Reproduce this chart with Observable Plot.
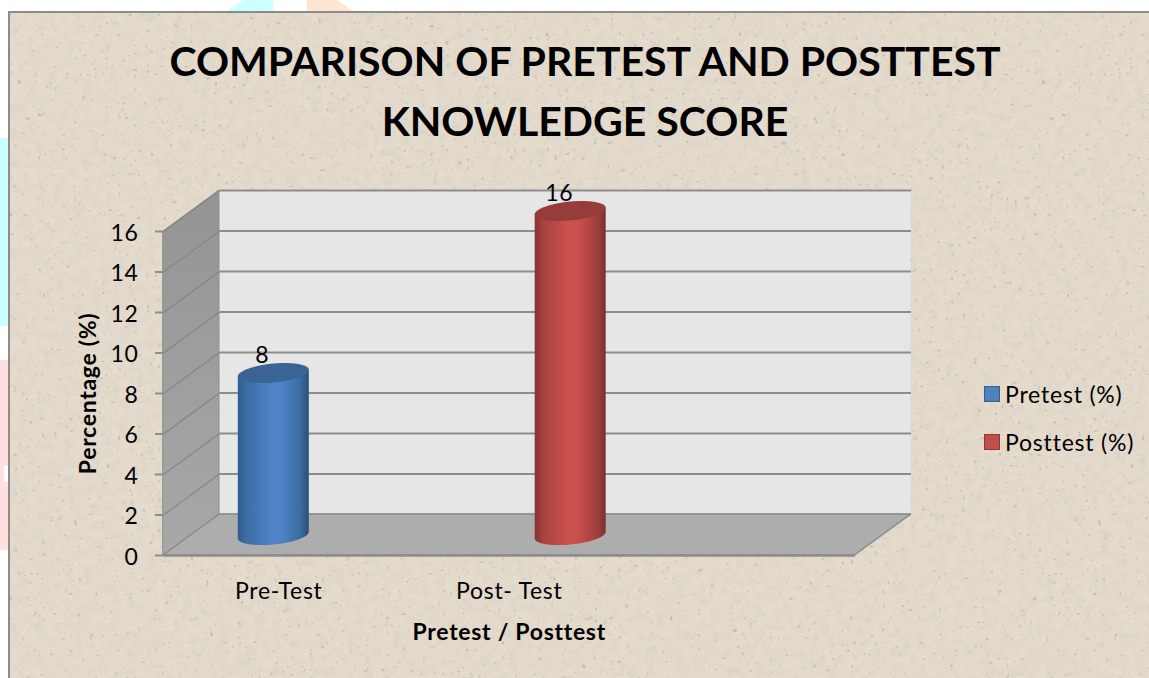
<!DOCTYPE html>
<html>
<head>
<meta charset="utf-8">
<script src="https://cdn.jsdelivr.net/npm/d3@7"></script>
<script src="https://cdn.jsdelivr.net/npm/@observablehq/plot@0.6"></script>
<style>
  html, body { margin: 0; padding: 0; background: #fff; }
  #page { position: relative; width: 1149px; height: 678px; overflow: hidden; font-family: Lato, "Noto Sans", sans-serif; color: #000; }
  .pastel { position: absolute; }
  #panel { position: absolute; left: 8px; top: 11px; right: -4px; bottom: -4px; box-sizing: border-box;
    border: 2px solid #8c8c8c; background-color: #e4dbcd; }
  #panel svg.tex { position: absolute; inset: 0; width: 100%; height: 100%; }
  #title { position: absolute; left: 0; top: 31px; width: 1170px; text-align: center; font-weight: 700; font-size: 41px; line-height: 60px; }
  #chart { position: absolute; left: 0; top: 0; }
  #chart svg { background: transparent; }
  #chart text { letter-spacing: 0.7px; }
  #legend { position: absolute; left: 984px; top: 370px; font-size: 23px; letter-spacing: 0.8px; line-height: 48px; }
  #legend .row { display: flex; align-items: center; height: 48px; }
  #legend i { display: block; width: 14px; height: 14px; margin-right: 5px; border: 1px solid; }
</style>
</head>
<body>
<div id="page">
  <div class="pastel" style="left:0;top:138px;width:8px;height:188px;background:#ccffff"></div>
  <div class="pastel" style="left:0;top:360px;width:8px;height:190px;background:#ffdfdf"></div>
  <div class="pastel" style="left:4px;top:466px;width:4px;height:16px;background:#fff"></div>
  <div class="pastel" style="left:227px;top:0;width:46px;height:11px;background:#ccffff;clip-path:polygon(0 100%,35% 0,100% 0,100% 100%)"></div>
  <div class="pastel" style="left:307px;top:0;width:46px;height:11px;background:#ffe6d2;clip-path:polygon(0 0,65% 0,100% 100%,0 100%)"></div>
  <div id="panel">
    <svg class="tex" xmlns="http://www.w3.org/2000/svg">
      <filter id="mottle" x="0" y="0" width="100%" height="100%">
        <feTurbulence type="fractalNoise" baseFrequency="0.11" numOctaves="3" seed="4"/>
        <feColorMatrix values="0 0 0 0 0.68  0 0 0 0 0.63  0 0 0 0 0.54  1 1 0 0 -0.88"/>
      </filter>
      <filter id="specks" x="0" y="0" width="100%" height="100%">
        <feTurbulence type="fractalNoise" baseFrequency="0.25" numOctaves="2" seed="11"/>
        <feColorMatrix values="0 0 0 0 0.40  0 0 0 0 0.37  0 0 0 0 0.32  4 4 0 0 -5.0"/>
      </filter>
      <rect width="100%" height="100%" filter="url(#mottle)"/>
      <rect width="100%" height="100%" filter="url(#specks)" opacity="0.5"/>
    </svg>
  </div>
  <div id="title">COMPARISON OF PRETEST AND POSTTEST<br>KNOWLEDGE SCORE</div>
  <div id="chart"></div>
  <div id="legend"></div>
</div>
<script>
// ---- chart values ----
const categories = ["Pre-Test", "Post- Test"];
const seriesNames = ["Pretest (%)", "Posttest (%)"];
const seriesValues = [8, 16];
const yTicks = [0, 2, 4, 6, 8, 10, 12, 14, 16];
const seriesFill = ["url(#gradBlue)", "url(#gradRed)"];
const seriesCap = ["#3a6494", "#963c3a"];
const swatchFill = ["#4f81bd", "#c0504d"];
const swatchEdge = ["#2f5f93", "#943634"];

// ---- 3D projection, in scale units ----
const slots = 3;          // category slots along the floor
const depthX = 0.2428;    // back wall offset along x
const depthY = 2.02;      // back wall offset along y
const spread = 1.288;     // distance between cylinders
const radiusX = 0.154, radiusY = 0.47, tiltY = 0.163;

const barX = (i) => 0.355 + i * spread + depthX / 2;
const midY = (v) => v + depthY / 2;
const arcPoint = (cx, cy, t) => ({x: cx + radiusX * Math.cos(t), y: cy + radiusY * Math.sin(t) + tiltY * Math.cos(t)});
const arc = (cx, cy, from, to, n = 48) => d3.range(n + 1).map((k) => arcPoint(cx, cy, from + (to - from) * k / n));

const body = (v, i) => [
  arcPoint(barX(i), midY(v), Math.PI),
  ...arc(barX(i), midY(0), Math.PI, 2 * Math.PI),
  arcPoint(barX(i), midY(v), 2 * Math.PI)
];
const cap = (v, i) => arc(barX(i), midY(v), 0, 2 * Math.PI);

const defs = () => {
  const d = d3.create("svg:defs");
  const grad = (id, stops) => {
    const g = d.append("linearGradient").attr("id", id).attr("x1", 0).attr("x2", 1).attr("y1", 0).attr("y2", 0);
    stops.forEach(([o, c]) => g.append("stop").attr("offset", o).attr("stop-color", c));
  };
  grad("gradBlue", [[0, "#2f5b8d"], [0.12, "#3c6ea4"], [0.5, "#4f85c8"], [0.62, "#4d83c4"], [0.88, "#3a6a9f"], [1, "#2b4f78"]]);
  grad("gradRed", [[0, "#873331"], [0.12, "#a84240"], [0.5, "#cc5350"], [0.62, "#c94f4d"], [0.88, "#9f3f3d"], [1, "#793130"]]);
  const w = d.append("linearGradient").attr("id", "gradWall").attr("x1", 0).attr("x2", 0).attr("y1", 0).attr("y2", 1);
  w.append("stop").attr("offset", 0).attr("stop-color", "#949494");
  w.append("stop").attr("offset", 1).attr("stop-color", "#a8a8a8");
  return d.node();
};

const wallLeft = [{x: 0, y1: 0, y2: yTicks.at(-1)}, {x: depthX, y1: depthY, y2: yTicks.at(-1) + depthY}];
const floor = [{y: 0, x1: 0, x2: slots}, {y: depthY, x1: depthX, x2: slots + depthX}];

const fontFamily = 'Lato, "Noto Sans", sans-serif';

const chart = Plot.plot({
  width: 1149,
  height: 678,
  marginLeft: 163,
  marginRight: 294.5,
  marginTop: 231,
  marginBottom: 123,
  style: {background: "transparent", fontFamily, color: "#000"},
  x: {domain: [0, slots], axis: null},
  y: {domain: [0, yTicks.at(-1)], axis: null},
  marks: [
    defs,
    // back wall
    Plot.rect([0], {x1: depthX, x2: slots + depthX, y1: depthY, y2: yTicks.at(-1) + depthY, fill: "#e6e6e6"}),
    // side wall
    Plot.areaY(wallLeft, {x: "x", y1: "y1", y2: "y2", fill: "url(#gradWall)", stroke: "#8c8c8c", strokeWidth: 1}),
    // grid across side wall and back wall
    Plot.link(yTicks, {x1: 0, x2: depthX, y1: (d) => d, y2: (d) => d + depthY, stroke: "#858585", strokeWidth: 1.2}),
    Plot.link(yTicks, {x1: depthX, x2: slots + depthX, y1: (d) => d + depthY, y2: (d) => d + depthY, stroke: "#8c8c8c", strokeWidth: 2}),
    // floor
    Plot.areaX(floor, {y: "y", x1: "x1", x2: "x2", fill: "#adadad", stroke: "#8c8c8c", strokeWidth: 1.5}),
    Plot.link([0], {x1: 0, x2: slots, y1: 0, y2: 0, stroke: "#8c8c8c", strokeWidth: 2.5}),
    // y axis: tick lines, then labels
    Plot.axisY({ticks: yTicks, anchor: "left", tickSize: 8, label: null, stroke: "#8c8c8c", strokeWidth: 2, tickFormat: () => ""}),
    Plot.text(yTicks, {x: 0, y: (d) => d, dx: -25, dy: 2, textAnchor: "end", fontSize: 23, fill: "#000"}),
    Plot.text(["Percentage (%)"], {frameAnchor: "left", textAnchor: "middle", dx: -75, rotate: -90, fontSize: 23, fontWeight: 700, fill: "#000"}),
    // category labels
    Plot.text(categories, {x: (d, i) => i + 0.5, y: 0, dy: 36, fontSize: 23, fill: "#000"}),
    Plot.text(["Pretest / Posttest"], {x: categories.length - 0.5, y: 0, dy: 77, fontSize: 23, fontWeight: 700, fill: "#000"}),
    // cylinders
    ...seriesValues.flatMap((v, i) => [
      Plot.line(body(v, i), {x: "x", y: "y", curve: "linear-closed", fill: seriesFill[i], stroke: "none"}),
      Plot.line(cap(v, i), {x: "x", y: "y", curve: "linear-closed", fill: seriesCap[i], stroke: "none"})
    ]),
    // value labels
    Plot.text(seriesValues, {x: (d, i) => barX(i), y: (d) => midY(d), dx: -11, dy: -17.5, fontSize: 23, fill: "#000"})
  ]
});

document.getElementById("chart").appendChild(chart);

const legend = d3.select("#legend");
seriesNames.forEach((name, i) => {
  const row = legend.append("div").attr("class", "row");
  row.append("i").style("background", swatchFill[i]).style("border-color", swatchEdge[i]);
  row.append("span").text(name);
});
</script>
</body>
</html>
